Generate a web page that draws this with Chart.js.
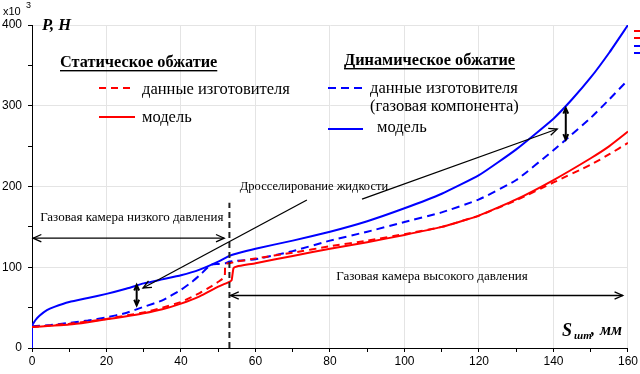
<!DOCTYPE html>
<html><head><meta charset="utf-8">
<script src="https://cdn.jsdelivr.net/npm/chart.js@4/dist/chart.umd.min.js"></script>
<style>html,body{margin:0;padding:0;background:#fff}</style>
</head><body>
<canvas id="c" width="640" height="374"></canvas>
<script>
// ---- data (S, mm  ->  P, x10^3 N) ----
const statModelX = [0,5,10,15,20,25,30,35,40,45,50,53,53.6,54.1,55,60,70,80,90,100,110,120,130,140,150,155,160];
const statModelY = [26,27.5,29,32,35.5,39,43,48,55,64,76,82,84,99,101,105,114,123,131,140,150,164,184,208,235,250,268];
const statDataX  = [0,5,10,15,20,25,30,35,40,45,48,50,51.7,51.9,53,55,60,70,80,90,100,110,120,130,140,150,155,160];
const statDataY  = [26,28,30,33,36,40,44,50,57,68,76,82,88,104,105,107,111,118,126,133,141,150,164,183,205,227,240,254];
const dynDataX   = [0,5,10,15,20,25,30,35,40,43,45,48,50,52,53,55,60,70,80,90,100,110,120,130,140,143.3,150,155,160];
const dynDataY   = [27,28.5,31,34,38,43,51,59,72,82,90,103,104,105,107,108,110,120,133,144,156,168,184,208,245,258,285,308,332];
const dynModelX  = [0,0,1,2,4,6,10,15,20,25,30,35,40,45,50,53,55,60,70,80,90,100,110,120,130,140,145,150,155,160];
const dynModelY  = [0,27,35,40,47,51,57,62,67,73,80,85,90,97,107,114,117,123,133,144,157,173,191,214,246,284,308,335,366,400];
const xTickLabels = [0,20,40,60,80,100,120,140,160];
const yTickLabels = [0,100,200,300,400];

const pts = (xs, ys) => xs.map((x, i) => ({x: x, y: ys[i]}));
const RED = 'rgb(255,0,0)', BLUE = 'rgb(0,0,255)';
const SERIF = '"Liberation Serif", "Times New Roman", serif';
const SANS = '"Liberation Sans", Arial, sans-serif';

// annotations in data coordinates
const notes = {
  lowArrow: {x1: 0.3, x2: 51.6, y: 136},
  lowText: {x: 26.8, y: 162, t: 'Газовая камера низкого давления'},
  divider: {x: 53, y1: 0, y2: 180},
  highArrow: {x1: 53.3, x2: 158.6, y: 65},
  highText: {x: 107.4, y: 88, t: 'Газовая камера высокого давления'},
  throttleText: {x: 75.7, y: 199.5, t: 'Дросселирование жидкости'},
  arrow1: {x1: 73.8, y1: 183.3, x2: 29.8, y2: 74.3},
  arrow2: {x1: 88.6, y1: 184.5, x2: 141, y2: 271.2},
  gap1: {x: 28.1, y1: 78, y2: 53},
  gap2: {x: 143.3, y1: 297, y2: 258}
};

function head(ctx, x, y, ang, len) {
  ctx.beginPath();
  ctx.moveTo(x - len * Math.cos(ang - 0.42), y - len * Math.sin(ang - 0.42));
  ctx.lineTo(x, y);
  ctx.lineTo(x - len * Math.cos(ang + 0.42), y - len * Math.sin(ang + 0.42));
  ctx.stroke();
}
function arrow(ctx, x1, y1, x2, y2, both, len) {
  ctx.beginPath(); ctx.moveTo(x1, y1); ctx.lineTo(x2, y2); ctx.stroke();
  const a = Math.atan2(y2 - y1, x2 - x1);
  head(ctx, x2, y2, a, len);
  if (both) head(ctx, x1, y1, a + Math.PI, len);
}

const annot = {
  id: 'annot',
  afterDatasetsDraw(chart) {
    const ctx = chart.ctx, xs = chart.scales.x, ys = chart.scales.y;
    const X = v => xs.getPixelForValue(v), Y = v => ys.getPixelForValue(v);
    ctx.save();
    ctx.strokeStyle = '#222'; ctx.lineWidth = 2; ctx.setLineDash([6, 4]);
    ctx.beginPath(); ctx.moveTo(X(notes.divider.x), Y(notes.divider.y1)); ctx.lineTo(X(notes.divider.x), Y(notes.divider.y2)); ctx.stroke();
    ctx.setLineDash([]);
    ctx.strokeStyle = '#000'; ctx.lineWidth = 1.3;
    arrow(ctx, X(notes.lowArrow.x1), Y(notes.lowArrow.y), X(notes.lowArrow.x2), Y(notes.lowArrow.y), true, 9);
    arrow(ctx, X(notes.highArrow.x1), Y(notes.highArrow.y), X(notes.highArrow.x2), Y(notes.highArrow.y), true, 9);
    arrow(ctx, X(notes.arrow1.x1), Y(notes.arrow1.y1), X(notes.arrow1.x2), Y(notes.arrow1.y2), false, 9);
    arrow(ctx, X(notes.arrow2.x1), Y(notes.arrow2.y1), X(notes.arrow2.x2), Y(notes.arrow2.y2), false, 9);
    ctx.lineWidth = 2;
    arrow(ctx, X(notes.gap1.x), Y(notes.gap1.y1), X(notes.gap1.x), Y(notes.gap1.y2), true, 6);
    arrow(ctx, X(notes.gap2.x), Y(notes.gap2.y1), X(notes.gap2.x), Y(notes.gap2.y2), true, 6);
    ctx.fillStyle = '#000'; ctx.font = '13px ' + SERIF; ctx.textAlign = 'center'; ctx.textBaseline = 'middle';
    ctx.fillText(notes.lowText.t, X(notes.lowText.x), Y(notes.lowText.y));
    ctx.fillText(notes.highText.t, X(notes.highText.x), Y(notes.highText.y));
    ctx.font = '12.5px ' + SERIF;
    ctx.fillText(notes.throttleText.t, X(notes.throttleText.x), Y(notes.throttleText.y));
    ctx.restore();
  },
  afterDraw(chart) {
    const ctx = chart.ctx;
    ctx.save();
    ctx.fillStyle = '#000'; ctx.textBaseline = 'alphabetic'; ctx.textAlign = 'left';
    // axis titles
    ctx.font = 'italic bold 16.5px ' + SERIF; ctx.fillText('P, Н', 42, 30);
    ctx.font = '11px ' + SANS; ctx.fillText('x10', 3, 15); ctx.font = '9px ' + SANS; ctx.fillText('3', 26, 8);
    ctx.font = 'italic bold 18px ' + SERIF; ctx.fillText('S', 562, 336);
    ctx.font = 'italic bold 11px ' + SERIF; ctx.fillText('шт', 574, 339);
    ctx.font = 'italic bold 16px ' + SERIF; ctx.fillText(',', 591, 335); ctx.fillText('мм', 600, 335);
    // legend headers
    ctx.font = 'bold 16.3px ' + SERIF;
    const hdr = (t, x, y) => { ctx.fillText(t, x, y); const w = ctx.measureText(t).width; ctx.fillRect(x, y + 3, w, 1.4); };
    hdr('Статическое обжатие', 60, 67);
    hdr('Динамическое обжатие', 344, 65);
    const sample = (x1, x2, y, col, dash) => { ctx.strokeStyle = col; ctx.lineWidth = 2; ctx.setLineDash(dash); ctx.beginPath(); ctx.moveTo(x1, y); ctx.lineTo(x2, y); ctx.stroke(); ctx.setLineDash([]); };
    sample(99, 131, 88, RED, [7, 5]);
    sample(99, 135, 117, RED, []);
    sample(328, 362, 88, BLUE, [8, 5]);
    sample(328, 363, 129, BLUE, []);
    ctx.font = '16.5px ' + SERIF;
    ctx.fillText('данные изготовителя', 142, 94);
    ctx.fillText('модель', 142, 122);
    ctx.fillText('данные изготовителя', 370, 93);
    ctx.fillText('(газовая компонента)', 370, 111);
    ctx.fillText('модель', 377, 132);
    // clipped legend marks at right edge
    sample(634, 640, 31, RED, []); sample(634, 640, 38, RED, []);
    sample(634, 640, 46, BLUE, []); sample(634, 640, 53, BLUE, []);
    ctx.restore();
  }
};

const gridCol = (ctx, step) => (ctx.tick && Math.round(ctx.tick.value) % step === 0) ? '#e4e4e4' : 'rgba(0,0,0,0)';

new Chart(document.getElementById('c'), {
  type: 'scatter',
  data: {
    datasets: [
      {data: pts(statDataX, statDataY), borderColor: RED, borderDash: [7, 5], borderWidth: 2},
      {data: pts(statModelX, statModelY), borderColor: RED, borderWidth: 2},
      {data: pts(dynDataX, dynDataY), borderColor: BLUE, borderDash: [8, 5], borderWidth: 2},
      {data: pts(dynModelX, dynModelY), borderColor: BLUE, borderWidth: 2}
    ].map(d => Object.assign({showLine: true, pointRadius: 0, tension: 0.15, fill: false}, d))
  },
  options: {
    responsive: false, animation: false,
    layout: {padding: {top: 25, right: 12, left: 0, bottom: 0}},
    plugins: {legend: {display: false}, tooltip: {enabled: false}},
    scales: {
      x: {
        type: 'linear', min: 0, max: 160,
        afterFit: s => { s.height = 26; },
        border: {color: '#000', width: 1},
        grid: {color: c => gridCol(c, 20), tickColor: '#000', tickLength: 4},
        ticks: {stepSize: 10, autoSkip: false, maxRotation: 0, padding: 2, color: '#000',
                font: {family: SANS, size: 12},
                callback: v => xTickLabels.includes(v) ? String(v) : ''}
      },
      y: {
        min: 0, max: 400,
        afterFit: s => { s.width = 32; },
        border: {color: '#000', width: 1},
        grid: {color: c => gridCol(c, 100), tickColor: '#000', tickLength: 4},
        ticks: {stepSize: 50, autoSkip: false, padding: 6, color: '#000',
                font: {family: SANS, size: 12},
                callback: v => yTickLabels.includes(v) ? String(v) : ''}
      }
    }
  },
  plugins: [annot]
});
</script>
</body></html>
